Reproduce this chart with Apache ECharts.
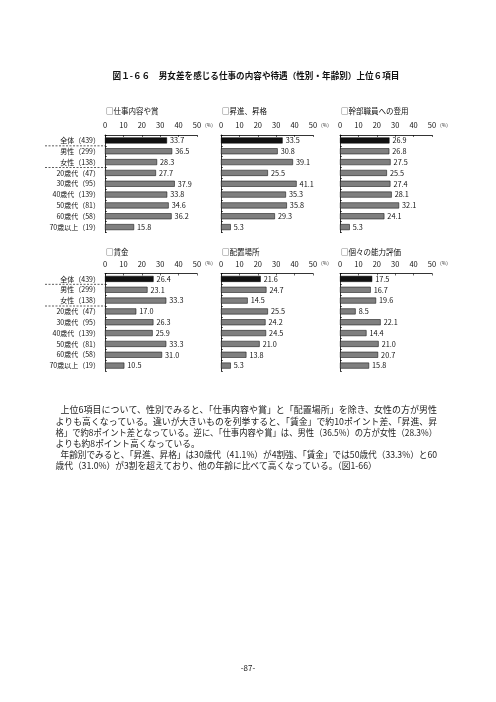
<!DOCTYPE html>
<html><head><meta charset="utf-8">
<script src="https://cdn.jsdelivr.net/npm/echarts@6/dist/echarts.min.js"></script>
<style>html,body{margin:0;padding:0;background:#fff}#c{width:496px;height:702px}</style>
</head><body><div id="c"></div>
<script>
const categories = ['全体（439）','男性（299）','女性（138）','20歳代（47）','30歳代（95）','40歳代（139）','50歳代（81）','60歳代（58）','70歳以上（19）'];
const panelTitles = ['□仕事内容や賞','□昇進、昇格','□幹部職員への登用','□賃金','□配置場所','□個々の能力評価'];
const shigoto = [33.7,36.5,28.3,27.7,37.9,33.8,34.6,36.2,15.8];
const shoshin = [33.5,30.8,39.1,25.5,41.1,35.3,35.8,29.3,5.3];
const kanbu = [26.9,26.8,27.5,25.5,27.4,28.1,32.1,24.1,5.3];
const chingin = [26.4,23.1,33.3,17.0,26.3,25.9,33.3,31.0,10.5];
const haichi = [21.6,24.7,14.5,25.5,24.2,24.5,21.0,13.8,5.3];
const nouryoku = [17.5,16.7,19.6,8.5,22.1,14.4,21.0,20.7,15.8];
const panelValues = [shigoto, shoshin, kanbu, chingin, haichi, nouryoku];
const xTicks = [0,10,20,30,40,50];
const unitLabel = '(%)';
const figTitle = '図１-６６　男女差を感じる仕事の内容や待遇（性別・年齢別）上位６項目';
const bodyLines = [
 '上位6項目について、性別でみると、「仕事内容や賞」と「配置場所」を除き、女性の方が男性',
 'よりも高くなっている。違いが大きいものを列挙すると、「賃金」で約10ポイント差、「昇進、昇',
 '格」で約8ポイント差となっている。逆に、「仕事内容や賞」は、男性（36.5%）の方が女性（28.3%）',
 'よりも約8ポイント高くなっている。',
 '年齢別でみると、「昇進、昇格」は30歳代（41.1%）が4割強、「賃金」では50歳代（33.3%）と60',
 '歳代（31.0%）が3割を超えており、他の年齢に比べて高くなっている。（図1-66）'
];
const pageNo = '-87-';

const FONT = '"Noto Sans CJK JP", "Noto Sans", sans-serif';
const colLeft = [105, 221, 340];
const rowTop = [135, 273.5];
const titleY = [111, 252.5];
const gw = 92, gh = 97.5;

const grids = [], xAxes = [], yAxes = [], series = [], titles = [];
panelValues.forEach((vals, i) => {
  const c = i % 3, r = Math.floor(i / 3);
  grids.push({left: colLeft[c], top: rowTop[r], width: gw, height: gh});
  xAxes.push({
    type: 'value', gridIndex: i, position: 'top', min: xTicks[0], max: xTicks[xTicks.length-1], interval: 10,
    axisLine: {show: true, lineStyle: {color: '#000', width: 0.8}},
    axisTick: {show: true, inside: true, length: 2, lineStyle: {color: '#000', width: 0.6}},
    axisLabel: {fontSize: 7.5, color: '#111', margin: 6, fontFamily: FONT},
    splitLine: {show: false}
  });
  yAxes.push({
    type: 'category', gridIndex: i, data: categories, inverse: true,
    axisLine: {show: true, lineStyle: {color: '#000', width: 0.8}},
    axisTick: {show: true, inside: true, length: 2, lineStyle: {color: '#000', width: 0.6}},
    axisLabel: {show: c === 0, fontSize: 7, color: '#111', margin: 5, fontFamily: FONT}
  });
  series.push({
    type: 'bar', xAxisIndex: i, yAxisIndex: i, barWidth: 6,
    data: vals.map((v, k) => k === 0 ? {value: v, itemStyle: {color: '#111'}} : v),
    itemStyle: {color: '#7f7f7f', borderColor: '#000', borderWidth: 0.5},
    label: {show: true, position: 'right', distance: 3, fontSize: 7.3, color: '#111', fontFamily: FONT,
      formatter: p => Number(p.value).toFixed(1)},
    silent: true, animation: false
  });
  titles.push({type: 'text', x: colLeft[c] + 1, y: titleY[r],
    style: {text: panelTitles[i], textVerticalAlign: 'middle', font: '7.5px ' + FONT, fill: '#111'}});
});

const chart = echarts.init(document.getElementById('c'), null, {renderer: 'canvas'});
chart.setOption({
  animation: false,
  grid: grids, xAxis: xAxes, yAxis: yAxes, series: series
});

const gfx = titles.slice();
// unit labels "(%)" beside the top axis
panelValues.forEach((vals, i) => {
  const c = i % 3, r = Math.floor(i / 3);
  gfx.push({type: 'text', x: colLeft[c] + gw + 8, y: rowTop[r] - 10,
    style: {text: unitLabel, textVerticalAlign: 'middle', font: '5px ' + FONT, fill: '#333'}});
});
gfx.push({type: 'text', x: 256, y: 76, style: {text: figTitle, textAlign: 'center', textVerticalAlign: 'middle',
  font: 'bold 8.6px ' + FONT, fill: '#111'}});
const lineY = [410, 421.2, 432.4, 443.6, 454.8, 466];
const lineX = [60.5, 55.5, 55.5, 55.5, 60.5, 55.5];
const justify = [true, true, true, false, true, false];
const rightEdge = 437;
const bodyFont = '8.9px ' + FONT;
const mctx = document.createElement('canvas').getContext('2d');
mctx.font = bodyFont;
const scales = bodyLines.map((t, k) => (rightEdge - lineX[k]) / mctx.measureText(t).width);
const justScales = scales.filter((s, k) => justify[k]);
const avgScale = justScales.reduce((a, b) => a + b, 0) / justScales.length;
bodyLines.forEach((t, k) => {
  gfx.push({type: 'text', x: lineX[k], y: lineY[k], scaleX: justify[k] ? scales[k] : Math.min(avgScale, 1.06),
    style: {text: t, textVerticalAlign: 'middle', font: bodyFont, fill: '#222'}});
});
gfx.push({type: 'text', x: 248, y: 668, style: {text: pageNo, textAlign: 'center', textVerticalAlign: 'middle',
  font: '8px ' + FONT, fill: '#222'}});
// dashed separators in label area
[0, 3].forEach(gi => {
  [[0,1],[2,3]].forEach(([a,b]) => {
    const ya = chart.convertToPixel({yAxisIndex: gi}, categories[a]);
    const yb = chart.convertToPixel({yAxisIndex: gi}, categories[b]);
    const y = (ya + yb) / 2;
    gfx.push({type: 'line', shape: {x1: 45, y1: y, x2: colLeft[0], y2: y},
      style: {stroke: '#333', lineWidth: 0.8, lineDash: [2, 1.5]}});
  });
});
chart.setOption({graphic: gfx});
</script></body></html>
